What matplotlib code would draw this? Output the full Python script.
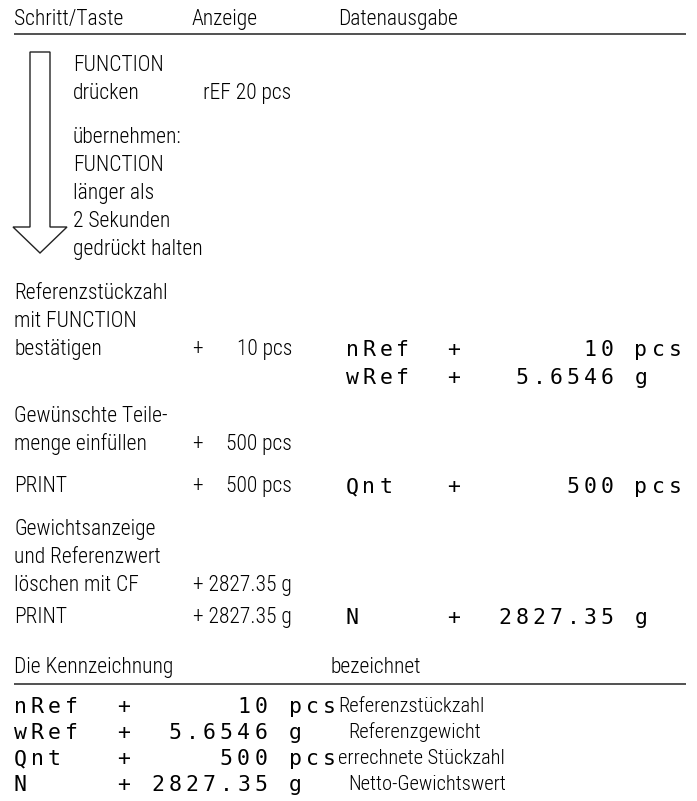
import matplotlib
matplotlib.use("Agg")
import matplotlib.pyplot as plt
from matplotlib.patches import Polygon

# ---------------- data ----------------
header = ["Schritt/Taste", "Anzeige", "Datenausgabe"]

arrow_steps = ["FUNCTION", "drücken", "übernehmen:", "FUNCTION",
               "länger als", "2 Sekunden", "gedrückt halten"]
steps = ["Referenzstückzahl", "mit FUNCTION", "bestätigen",
         "Gewünschte Teile-", "menge einfüllen", "PRINT",
         "Gewichtsanzeige", "und Referenzwert", "löschen mit CF", "PRINT"]

display_first = "rEF 20 pcs"
display_signs = ["+", "+", "+", "+", "+"]
display_values = ["10 pcs", "500 pcs", "500 pcs", "2827.35 g", "2827.35 g"]

codes = ["nRef", "wRef", "Qnt", "N"]
values = ["10", "5.6546", "500", "2827.35"]
units = ["pcs", "g", "pcs", "g"]
descriptions = ["Referenzstückzahl", "Referenzgewicht",
                "errechnete Stückzahl", "Netto-Gewichtswert"]
legend_header = ["Die Kennzeichnung", "bezeichnet"]

# output rows printed in the procedure (index into codes)
printed_rows = [0, 1, 2, 3]

# ---------------- layout ----------------
W, H = 697, 801
fig = plt.figure(figsize=(W / 100, H / 100), dpi=100)
ax = fig.add_axes([0, 0, 1, 1])
ax.set_xlim(0, W)
ax.set_ylim(H, 0)
ax.axis("off")

BODY = dict(family="Roboto Condensed", fontweight="light", fontsize=15.5,
            color="black", va="baseline")
SMALL = dict(BODY, fontsize=14.8)
MONO = dict(family="DejaVu Sans Mono", fontsize=15.5, color="black",
            va="baseline", ha="center")
BL = 7   # baseline offset from visual centre (body)
MBL = 8  # baseline offset (mono)

# header
ax.text(14, 18 + BL, header[0], ha="left", **BODY)
ax.text(192, 18 + BL, header[1], ha="left", **BODY)
ax.text(338, 18 + BL, header[2], ha="left", **BODY)
ax.plot([14, 686], [34, 34], color="#222222", lw=1.1, solid_capstyle="butt")

# arrow
ax.add_patch(Polygon([(30, 52), (50, 52), (50, 227), (67, 227), (40, 253),
                      (13, 227), (30, 227)], closed=True, facecolor="white",
                     edgecolor="#222222", lw=1.0, joinstyle="miter"))

arrow_y = [64, 92, 136, 164, 192, 220, 248]
for y, t in zip(arrow_y, arrow_steps):
    ax.text(73, y + BL, t, ha="left", **BODY)

step_y = [292, 320, 348, 415, 443, 485, 528, 556, 584, 616]
for y, t in zip(step_y, steps):
    ax.text(14, y + BL, t, ha="left", **BODY)

# display column
ax.text(203, 92 + BL, display_first, ha="left", **BODY)
disp_y = [348, 443, 485, 584, 616]
for y, s, v in zip(disp_y, display_signs, display_values):
    if len(v) > 8:
        ax.text(292, y + BL, s + " " + v, ha="right", **BODY)
    else:
        ax.text(197, y + BL, s, ha="center", **BODY)
        ax.text(292, y + BL, v, ha="right", **BODY)


def mono_line(x0, pitch, y, code, value, unit, width):
    line = f"{code:<6}+{value:>{width}} {unit}"
    for i, ch in enumerate(line):
        if ch != " ":
            ax.text(x0 + i * pitch, y + MBL, ch, **MONO)


# data output during procedure
out_y = [348, 376, 485, 616]
for y, r in zip(out_y, printed_rows):
    mono_line(352, 17.0, y, codes[r], values[r], units[r], 9)

# legend table
ax.text(14, 666 + BL, legend_header[0], ha="left", **BODY)
ax.text(330, 666 + BL, legend_header[1], ha="left", **BODY)
ax.plot([14, 686], [684, 684], color="#222222", lw=1.1, solid_capstyle="butt")
tab_y = [705, 731, 757, 783]
for y, c, v, u, d in zip(tab_y, codes, values, units, descriptions):
    mono_line(20, 17.2, y, c, v, u, 8)
    dx = 338 if u == "pcs" else 348
    ax.text(dx, y + BL, d, ha="left", **SMALL)

fig.savefig("out.png", dpi=100)
